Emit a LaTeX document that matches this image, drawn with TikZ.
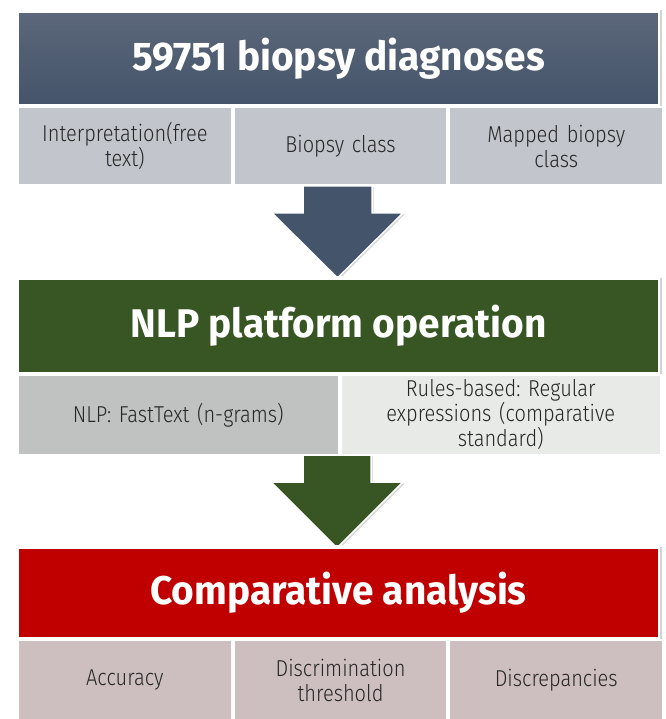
\documentclass[tikz,border=0pt]{standalone}
\usepackage{fontspec}
\setmainfont{Fira Sans}
\newfontfamily\headfont[FakeStretch=0.97]{Fira Sans Bold}
\newfontfamily\bodyfont[FakeStretch=0.87]{Fira Sans Light}
\usetikzlibrary{shadows,calc}
\frenchspacing

\definecolor{slateblue}{HTML}{44546A}
\definecolor{slatetop}{HTML}{5C677A}
\definecolor{darkgreen}{HTML}{375623}
\definecolor{darkred}{HTML}{C00000}
\definecolor{cellgray}{HTML}{C2C5CB}
\definecolor{cellgreen}{HTML}{BFC2C0}
\definecolor{celllight}{HTML}{E7EAE6}
\definecolor{cellrose}{HTML}{CDBFC0}
\definecolor{celltext}{HTML}{262626}

\tikzset{
  panel/.style={fill=white, drop shadow={shadow xshift=1.5pt, shadow yshift=-1.5pt, opacity=0.35}},
  head/.style={draw=white, line width=2pt, anchor=north west, inner sep=0pt,
    text=white, font=\headfont\fontsize{40}{44}\selectfont},
  cell/.style={draw=white, line width=2pt, anchor=north west, inner sep=3pt,
    text=celltext, align=center, font=\bodyfont\fontsize{23}{25}\selectfont\frenchspacing},
  blockarrow/.style={draw=white, line width=1.5pt,
    drop shadow={shadow xshift=1.5pt, shadow yshift=-1.5pt, opacity=0.35}}
}

\begin{document}
\begin{tikzpicture}[x=1pt,y=-1pt]
  \useasboundingbox (0,0) rectangle (665,719);

  % arrows go first, the panels cover the shaft tops
  \coordinate (a1) at (337.5,186);
  \coordinate (a2) at (337,454);
  \filldraw[blockarrow, fill=slateblue] (a1) ++(-34.5,0) -- ++(69,0) -- ++(0,27)
    -- ++(31,0) -- ++(-65.5,65) -- ++(-65.5,-65) -- ++(31,0) -- cycle;
  \filldraw[blockarrow, fill=darkgreen] (a2) ++(-34,0) -- ++(68,0) -- ++(0,28)
    -- ++(32,0) -- ++(-66,66) -- ++(-66,-66) -- ++(32,0) -- cycle;

  % input data
  \fill[panel] (15,9) rectangle (660,185);
  \node[head, minimum width=641pt, minimum height=93pt,
    top color=slatetop, bottom color=slateblue] (data) at (17,11) {59751 biopsy diagnoses};
  \node[cell, fill=cellgray, minimum width=213.7pt, minimum height=78pt, text width=200pt]
    (interp) at (data.south west) {Interpretation(free\\text)};
  \node[cell, fill=cellgray, minimum width=213.7pt, minimum height=78pt, text width=200pt]
    (bclass) at (interp.north east) {Biopsy class};
  \node[cell, fill=cellgray, minimum width=213.7pt, minimum height=78pt, text width=200pt]
    (mclass) at (bclass.north east) {Mapped biopsy\\class};

  % NLP step
  \fill[panel] (15,276) rectangle (660,454);
  \node[head, fill=darkgreen, minimum width=641pt, minimum height=94pt]
    (nlp) at (17,278) {NLP platform operation};
  \node[cell, fill=cellgreen, minimum width=320.5pt, minimum height=80pt, text width=305pt]
    (fasttext) at (nlp.south west) {NLP: FastText (n-grams)};
  \node[cell, fill=celllight, minimum width=320.5pt, minimum height=80pt, text width=305pt]
    (regex) at (fasttext.north east) {Rules-based: Regular\\expressions (comparative\\standard)};

  % comparison
  \fill[panel] (15,545) rectangle (660,721);
  \node[head, fill=darkred, minimum width=641pt, minimum height=90pt]
    (comp) at (17,547) {Comparative analysis};
  \node[cell, fill=cellrose, minimum width=213.7pt, minimum height=80pt, text width=200pt]
    (acc) at (comp.south west) {Accuracy};
  \node[cell, fill=cellrose, minimum width=213.7pt, minimum height=80pt, text width=200pt]
    (thresh) at (acc.north east) {Discrimination\\threshold};
  \node[cell, fill=cellrose, minimum width=213.7pt, minimum height=80pt, text width=200pt]
    (discr) at (thresh.north east) {Discrepancies};
\end{tikzpicture}
\end{document}
